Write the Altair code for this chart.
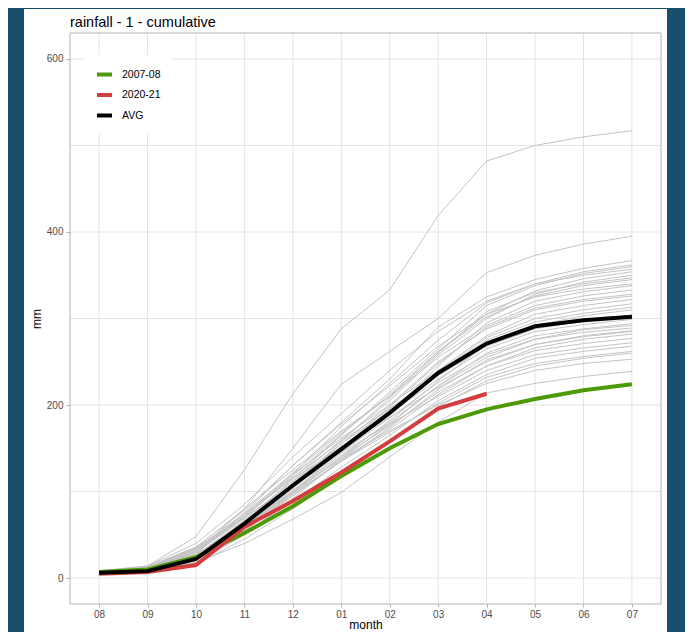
import altair as alt
import pandas as pd

# ---------------- data ----------------
months = ["08", "09", "10", "11", "12", "01", "02", "03", "04", "05", "06", "07"]
y_grid = [0, 100, 200, 300, 400, 500, 600]
y_ticks = [0, 200, 400, 600]

# grey seasons (cumulative mm, Aug..Jul)
s01 = [8, 14, 48, 125, 213, 288, 333, 419, 482, 500, 510, 517]
s02 = [7, 12, 30, 80, 150, 224, 262, 300, 353, 373, 386, 395]
s03 = [6, 10, 28, 75, 130, 180, 230, 290, 325, 345, 358, 367]
s04 = [8, 14, 40, 85, 140, 190, 240, 285, 320, 340, 354, 362]
s05 = [5, 9, 25, 62, 115, 165, 215, 265, 315, 338, 352, 360]
s06 = [6, 11, 30, 70, 120, 175, 225, 275, 318, 340, 350, 357]
s07 = [7, 12, 35, 80, 125, 170, 210, 262, 305, 332, 346, 354]
s08 = [6, 10, 26, 66, 112, 160, 205, 258, 300, 328, 342, 350]
s09 = [5, 9, 22, 58, 105, 158, 208, 260, 308, 330, 340, 347]
s10 = [8, 13, 36, 78, 130, 178, 222, 268, 305, 325, 334, 340]
s11 = [6, 10, 24, 60, 100, 145, 190, 245, 295, 320, 331, 338]
s12 = [7, 11, 30, 72, 122, 168, 210, 255, 292, 315, 326, 333]
s13 = [5, 8, 20, 55, 98, 150, 198, 248, 290, 312, 322, 328]
s14 = [6, 12, 33, 75, 120, 162, 200, 240, 280, 305, 315, 322]
s15 = [7, 10, 27, 62, 108, 155, 195, 238, 278, 300, 310, 317]
s16 = [5, 9, 23, 57, 100, 140, 182, 228, 270, 292, 303, 310]
s17 = [6, 11, 30, 68, 112, 152, 190, 230, 265, 285, 293, 299]
s18 = [4, 7, 18, 50, 92, 138, 178, 222, 260, 280, 288, 294]
s19 = [6, 10, 26, 63, 104, 146, 185, 226, 258, 276, 284, 289]
s20 = [7, 12, 32, 72, 115, 150, 186, 220, 250, 270, 279, 285]
s21 = [5, 8, 21, 54, 95, 135, 172, 212, 245, 266, 276, 282]
s22 = [6, 9, 24, 58, 98, 140, 176, 215, 245, 263, 271, 277]
s23 = [8, 13, 35, 70, 108, 145, 178, 210, 240, 258, 266, 272]
s24 = [5, 8, 20, 52, 88, 128, 165, 205, 235, 254, 262, 268]
s25 = [6, 10, 25, 60, 98, 135, 168, 202, 232, 248, 256, 262]
s26 = [4, 7, 16, 45, 80, 118, 158, 198, 228, 245, 254, 260]
s27 = [6, 11, 28, 62, 100, 138, 170, 200, 225, 240, 248, 253]
s28 = [5, 8, 18, 40, 68, 99, 140, 180, 214, 225, 233, 239]
s29 = [7, 12, 31, 70, 118, 166, 212, 262, 302, 326, 338, 345]
s30 = [5, 9, 24, 64, 110, 155, 200, 250, 288, 310, 320, 326]
s31 = [6, 10, 27, 66, 106, 150, 192, 236, 275, 296, 306, 313]
s32 = [8, 13, 34, 74, 116, 158, 196, 234, 268, 288, 298, 304]
s33 = [6, 10, 25, 60, 102, 142, 180, 222, 255, 276, 287, 292]
s34 = [5, 9, 22, 56, 96, 136, 174, 218, 252, 270, 280, 286]
grey_list = [s01, s02, s03, s04, s05, s06, s07, s08, s09, s10, s11, s12, s13, s14,
             s15, s16, s17, s18, s19, s20, s21, s22, s23, s24, s25, s26, s27, s28,
             s29, s30, s31, s32, s33, s34]

series_names = ["2007-08", "2020-21", "AVG"]
series_colors = ["#4c9a06", "#d43d3d", "#000000"]
v_2007_08 = [7, 10, 24, 52, 83, 118, 150, 178, 195, 207, 217, 224]
v_2020_21 = [5, 7, 15, 59, 89, 122, 158, 196, 213]
v_avg = [6, 8, 22, 63, 107, 149, 191, 237, 271, 291, 298, 302]

# ---------------- tables ----------------
grey_rows = []
for k, vals in enumerate(grey_list):
    for i, v in enumerate(vals):
        grey_rows.append({"season": f"g{k}", "month": months[i], "idx": i, "mm": v})
df_grey = pd.DataFrame(grey_rows)

hl_rows = []
for name, vals in zip(series_names, [v_2007_08, v_2020_21, v_avg]):
    for i, v in enumerate(vals):
        hl_rows.append({"series": name, "month": months[i], "idx": i, "mm": v})
df_hl = pd.DataFrame(hl_rows)

# ---------------- scales / axes ----------------
W, H = 591, 571
FONT = "Liberation Sans"
x_scale = alt.Scale(domain=months, type="point", padding=0.6)
y_scale = alt.Scale(domain=[-30, 630], nice=False, zero=False)
x_axis = alt.Axis(title="month", grid=False, domain=False, tickColor="#b3b3b3",
                  tickSize=3, labelColor="#4d4d4d", labelFontSize=10, labelPadding=2,
                  labelAngle=0, titleColor="#000000", titleFontSize=12,
                  titleFontWeight="normal", titlePadding=0, zindex=1)
y_axis = alt.Axis(title="mm", values=y_ticks, grid=False, domain=False,
                  tickColor="#b3b3b3", tickSize=4, labelColor="#4d4d4d",
                  labelFontSize=10, labelPadding=3, titleColor="#000000",
                  titleFontSize=12, titleFontWeight="normal", titlePadding=3, zindex=1)
X = alt.X("month:O", scale=x_scale, axis=x_axis)
Y = alt.Y("mm:Q", scale=y_scale, axis=y_axis)

one = pd.DataFrame({"k": [0]})

panel = alt.Chart(one).mark_rect(color="white").encode(
    x=alt.value(-46), x2=alt.value(597), y=alt.value(-24), y2=alt.value(H + 28))

vgrid = alt.Chart(pd.DataFrame({"month": months})).mark_rule(
    color="#e3e3e3", strokeWidth=1).encode(x=X)
hgrid = alt.Chart(pd.DataFrame({"mm": y_grid})).mark_rule(
    color="#e3e3e3", strokeWidth=1).encode(y=Y)

grey = alt.Chart(df_grey).mark_line(color="#c4c4c4", strokeWidth=1).encode(
    x=X, y=Y, detail="season:N", order="idx:Q")

hl = alt.Chart(df_hl).mark_line(strokeWidth=4).encode(
    x=X, y=Y, order="idx:Q",
    color=alt.Color("series:N",
                    scale=alt.Scale(domain=series_names, range=series_colors),
                    legend=alt.Legend(title=None, orient="none", legendX=15, legendY=22,
                                      fillColor="white", padding=10, symbolType="stroke",
                                      symbolSize=225, symbolStrokeWidth=4,
                                      labelFontSize=10.5, labelColor="#000000",
                                      labelFont=FONT, labelOffset=8, rowPadding=2.5)))

border = alt.Chart(one).mark_rect(fillOpacity=0, stroke="#b3b3b3", strokeWidth=1).encode(
    x=alt.value(0), x2=alt.value(W), y=alt.value(0), y2=alt.value(H))

chart = alt.layer(panel, vgrid, hgrid, grey, hl, border).properties(
    width=W, height=H,
    background="#164e6c",
    padding={"left": 62, "top": 25, "right": 24, "bottom": 28},
    autosize=alt.AutoSizeParams(type="none"),
    title=alt.TitleParams("rainfall - 1 - cumulative", anchor="start", frame="group",
                          fontSize=14.5, font=FONT, fontWeight="normal",
                          color="#000000", offset=0, dy=21),
).configure(font=FONT).configure_view(strokeWidth=0)

chart.save("out.html", embed_options={"renderer": "svg", "actions": False})
